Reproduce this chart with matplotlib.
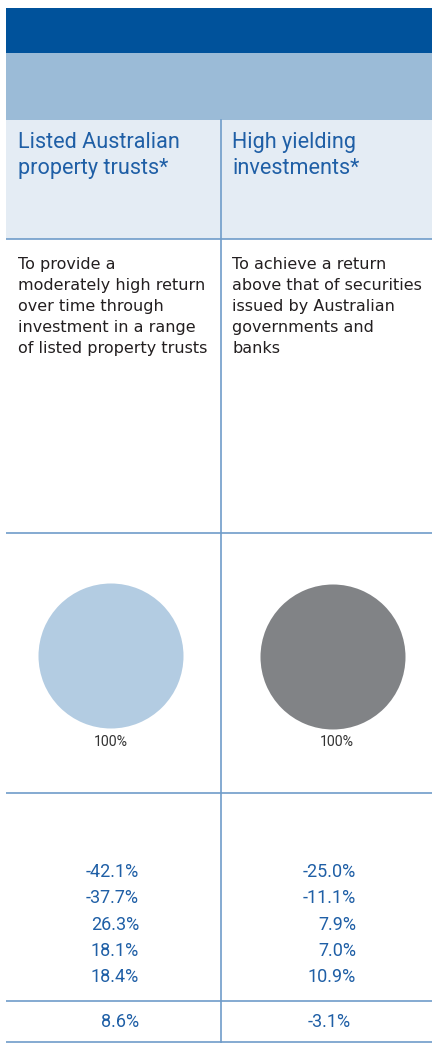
import matplotlib
matplotlib.use("Agg")
import matplotlib.pyplot as plt
from matplotlib.patches import Rectangle

# ---- data ----
columns = ["Listed Australian\nproperty trusts*", "High yielding\ninvestments*"]
descriptions = [
    ["To provide a", "moderately high return", "over time through",
     "investment in a range", "of listed property trusts"],
    ["To achieve a return", "above that of securities", "issued by Australian",
     "governments and", "banks"],
]
allocation = [[100], [100]]
allocation_labels = ["100%", "100%"]
pie_colors = ["#b3cce2", "#818386"]
yearly_returns = [
    ["-42.1%", "-37.7%", "26.3%", "18.1%", "18.4%"],
    ["-25.0%", "-11.1%", "7.9%", "7.0%", "10.9%"],
]
avg_returns = ["8.6%", "-3.1%"]

W, H = 432, 1043
DPI = 100
FONT = "Roboto"
BLUE_TXT = "#1f5fa6"
LINE = "#6f9cc9"

fig = plt.figure(figsize=(W / DPI, H / DPI), dpi=DPI)
ax = fig.add_axes([0, 0, 1, 1])
ax.set_xlim(0, W)
ax.set_ylim(H, 0)
ax.axis("off")

# bands
ax.add_patch(Rectangle((6, 8), W - 6, 45, color="#00529b", lw=0))
ax.add_patch(Rectangle((6, 53), W - 6, 67, color="#9bbbd7", lw=0))
ax.add_patch(Rectangle((6, 120), W - 6, 119, color="#e4ecf4", lw=0))

# lines
for y in [239, 533, 793, 1001, 1042]:
    ax.plot([6, W], [y, y], color=LINE, lw=1.2, solid_capstyle="butt")
ax.plot([220.5, 220.5], [120, H], color=LINE, lw=1.2)

col_x = [18, 232]
for i, name in enumerate(columns):
    for j, line in enumerate(name.split("\n")):
        ax.text(col_x[i], 148 + j * 26, line, fontsize=15.6, family=FONT,
                color=BLUE_TXT, va="baseline", ha="left")
    for j, line in enumerate(descriptions[i]):
        ax.text(col_x[i], 269 + j * 21, line, fontsize=11.5, family="DejaVu Sans",
                color="#231f20", va="baseline", ha="left")

# pies
pie_centers = [(111, 656), (333, 657)]
r = 72.5
for i, (cx, cy) in enumerate(pie_centers):
    pax = fig.add_axes([(cx - r) / W, 1 - (cy + r) / H, 2 * r / W, 2 * r / H])
    pax.pie(allocation[i], colors=[pie_colors[i]], radius=1, startangle=90,
            wedgeprops=dict(linewidth=0))
    pax.set_xlim(-1, 1)
    pax.set_ylim(-1, 1)
    pax.set_aspect("auto")
    pax.axis("off")
    ax.text(cx + (0 if i == 0 else 4), 746, allocation_labels[i], fontsize=10.2,
            family=FONT, color="#333333", ha="center", va="baseline")

# returns
right_x = [139, 356]
for i in range(2):
    for j, v in enumerate(yearly_returns[i]):
        ax.text(right_x[i], 877 + j * 26.3, v, fontsize=13, family=FONT,
                color=BLUE_TXT, ha="right", va="baseline")
    ax.text(right_x[i] - (0 if i == 0 else 5), 1027, avg_returns[i], fontsize=13,
            family=FONT, color=BLUE_TXT, ha="right", va="baseline")

fig.savefig("out.png", dpi=DPI)
